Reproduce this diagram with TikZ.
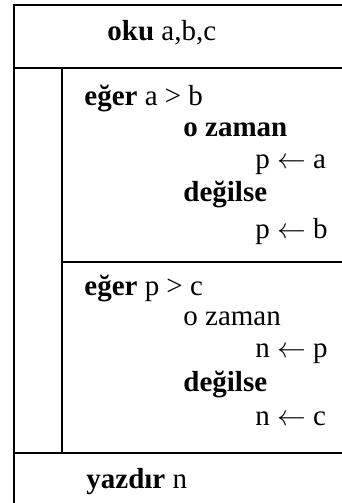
\documentclass[tikz,border=0pt]{standalone}
\usepackage{fontspec}
\setmainfont{Liberation Serif}
\usetikzlibrary{positioning}

\newcommand{\assign}{\ensuremath{\leftarrow}}

\begin{document}
\begin{tikzpicture}[
  x=0.5pt, y=-0.5pt,
  every node/.style={font=\fontsize{14.5}{17}\selectfont, inner sep=0pt},
  txt/.style={anchor=base west},
  rule/.style={line width=1pt}
]
  \useasboundingbox (0,0) rectangle (342,503);
  % frame of the structogram
  \draw[rule] (345,5) -- (14,5) -- (14,506);
  \draw[rule] (14,68) -- (345,68);
  \draw[rule] (62,68) -- (62,453);
  \draw[rule] (62,262) -- (345,262);
  \draw[rule] (14,453) -- (345,453);

  \node[txt] (oku) at (107,40) {\textbf{oku} a,b,c};

  % first if block
  \node[txt] (if1)   at (84,105)  {\textbf{eğer} a > b};
  \node[txt] (then1) at (183,136) {\textbf{o zaman}};
  \node[txt] (pa)    at (255,168) {p \assign{} a};
  \node[txt] (else1) at (183,201) {\textbf{değilse}};
  \node[txt] (pb)    at (255,238) {p \assign{} b};

  % second if block
  \node[txt] (if2)   at (84,295)  {\textbf{eğer} p > c};
  \node[txt] (then2) at (183,325) {o zaman};
  \node[txt] (np)    at (255,357) {n \assign{} p};
  \node[txt] (else2) at (183,391) {\textbf{değilse}};
  \node[txt] (nc)    at (255,425) {n \assign{} c};

  \node[txt] (out) at (86,488) {\textbf{yazdır} n};
\end{tikzpicture}
\end{document}
